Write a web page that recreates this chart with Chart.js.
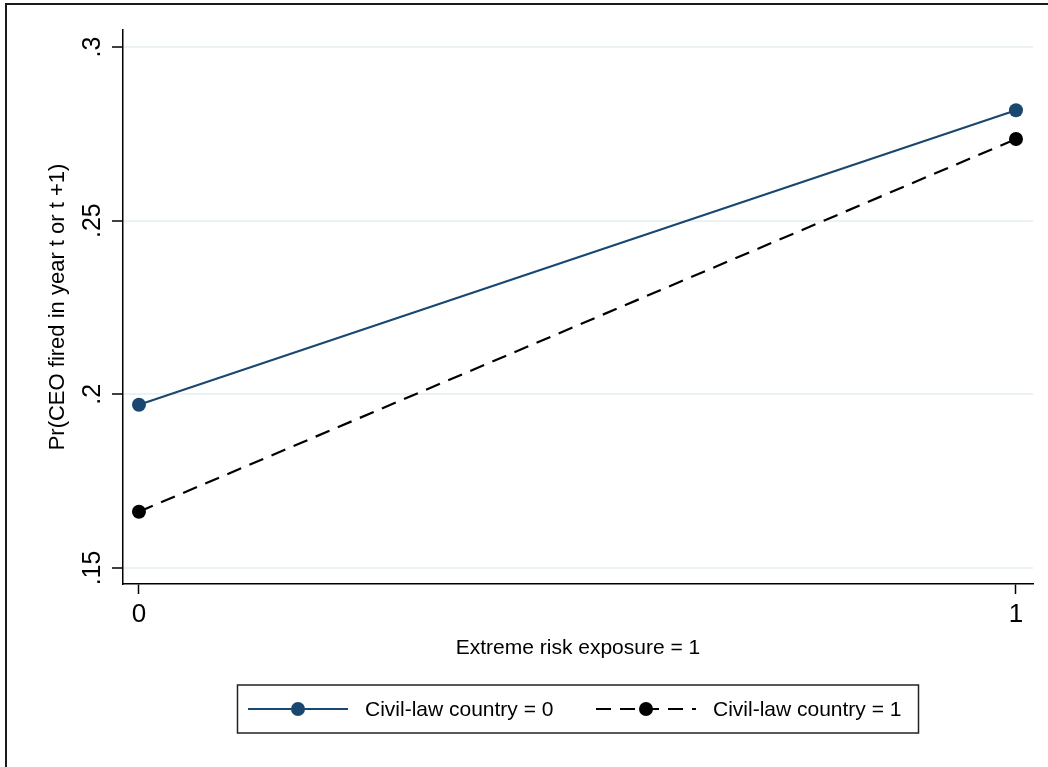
<!DOCTYPE html>
<html>
<head>
<meta charset="utf-8">
<script src="https://cdn.jsdelivr.net/npm/chart.js@4"></script>
<style>
  html, body { margin: 0; padding: 0; background: #fff; }
  #wrap { width: 1048px; height: 767px; position: relative; }
</style>
</head>
<body>
<div id="wrap"><canvas id="c" width="1048" height="767"></canvas></div>
<script>
// Predicted probabilities by risk exposure and legal origin
const xCategories = [0, 1];
const xTickLabels = ['0', '1'];
const yTickValues = [0.15, 0.2, 0.25, 0.3];
const yTickLabels = ['.15', '.2', '.25', '.3'];
const seriesNames = ['Civil-law country = 0', 'Civil-law country = 1'];
const civilLaw0 = [0.197, 0.2818];
const civilLaw1 = [0.1662, 0.2735];
const xAxisTitle = 'Extreme risk exposure = 1';
const yAxisTitle = 'Pr(CEO fired in year t or t +1)';

const FONT = 'Liberation Sans, Arial, Helvetica, sans-serif';
const NAVY = '#1a476f';

const toPoints = vals => xCategories.map((x, i) => ({ x: x, y: vals[i] }));

// White page with the outer graph frame
const framePlugin = {
  id: 'frame',
  beforeDraw(chart) {
    const ctx = chart.ctx;
    ctx.save();
    ctx.fillStyle = '#ffffff';
    ctx.fillRect(0, 0, chart.width, chart.height);
    ctx.strokeStyle = '#1a1a1a';
    ctx.lineWidth = 2;
    ctx.strokeRect(6, 4, 1200, 1000);
    ctx.restore();
  }
};

// Boxed legend with line-and-marker samples below the plot
const boxLegendPlugin = {
  id: 'boxLegend',
  afterDraw(chart) {
    const ctx = chart.ctx;
    const box = { x: 237.5, y: 685, w: 681, h: 48 };
    const cy = box.y + box.h / 2;
    ctx.save();
    ctx.strokeStyle = '#222';
    ctx.lineWidth = 1.5;
    ctx.strokeRect(box.x, box.y, box.w, box.h);

    const items = [
      { x0: 248, x1: 348, tx: 365 },
      { x0: 596, x1: 696, tx: 713 }
    ];
    chart.data.datasets.forEach((ds, i) => {
      const it = items[i];
      ctx.beginPath();
      ctx.setLineDash(ds.borderDash || []);
      ctx.strokeStyle = ds.borderColor;
      ctx.lineWidth = ds.borderWidth;
      ctx.moveTo(it.x0, cy);
      ctx.lineTo(it.x1, cy);
      ctx.stroke();
      ctx.setLineDash([]);
      ctx.beginPath();
      ctx.fillStyle = ds.pointBackgroundColor;
      ctx.arc((it.x0 + it.x1) / 2, cy, ds.pointRadius, 0, Math.PI * 2);
      ctx.fill();
      ctx.fillStyle = '#000';
      ctx.font = '21px ' + FONT;
      ctx.textBaseline = 'middle';
      ctx.textAlign = 'left';
      ctx.fillText(ds.label, it.tx, cy + 1);
    });
    ctx.restore();
  }
};

new Chart(document.getElementById('c'), {
  type: 'line',
  data: {
    datasets: [
      {
        label: seriesNames[0],
        data: toPoints(civilLaw0),
        borderColor: NAVY,
        borderWidth: 2.2,
        pointRadius: 7,
        pointBackgroundColor: NAVY,
        pointBorderWidth: 0,
        fill: false
      },
      {
        label: seriesNames[1],
        data: toPoints(civilLaw1),
        borderColor: '#000000',
        borderWidth: 2.2,
        borderDash: [15, 9],
        pointRadius: 7,
        pointBackgroundColor: '#000000',
        pointBorderWidth: 0,
        fill: false
      }
    ]
  },
  options: {
    responsive: false,
    animation: false,
    devicePixelRatio: 1,
    layout: { padding: { left: 0, top: 30, right: 15, bottom: 103 } },
    plugins: { legend: { display: false }, tooltip: { enabled: false } },
    scales: {
      x: {
        type: 'linear',
        min: -0.0182,
        max: 1.0194,
        afterBuildTicks: s => { s.ticks = xCategories.map(v => ({ value: v })); },
        afterFit: s => { s.height = 80; },
        ticks: {
          callback: v => xTickLabels[xCategories.indexOf(v)],
          color: '#000',
          font: { family: FONT, size: 26 },
          padding: 5,
          maxRotation: 0,
          autoSkip: false
        },
        grid: {
          drawOnChartArea: false,
          drawTicks: true,
          tickLength: 10,
          tickColor: '#000',
          tickWidth: 1.5
        },
        border: { display: true, color: '#000', width: 1.5 },
        title: {
          display: true,
          text: xAxisTitle,
          color: '#000',
          font: { family: FONT, size: 21 },
          padding: { top: 0, bottom: 3 }
        }
      },
      y: {
        type: 'linear',
        min: 0.14539,
        max: 0.3049,
        afterBuildTicks: s => { s.ticks = yTickValues.map(v => ({ value: v })); },
        afterFit: s => { s.width = 123; },
        ticks: {
          callback: v => yTickLabels[yTickValues.findIndex(t => Math.abs(t - v) < 1e-9)],
          color: '#000',
          font: { family: FONT, size: 25 },
          minRotation: 90,
          maxRotation: 90,
          crossAlign: 'center',
          padding: 2,
          autoSkip: false
        },
        grid: {
          color: '#eaf2f3',
          lineWidth: 2,
          drawTicks: true,
          tickLength: 11,
          tickColor: '#000',
          tickWidth: 1.5
        },
        border: { display: true, color: '#000', width: 1.5 },
        title: {
          display: true,
          text: yAxisTitle,
          color: '#000',
          font: { family: FONT, size: 22 },
          padding: { top: 45, bottom: 0 }
        }
      }
    }
  },
  plugins: [framePlugin, boxLegendPlugin]
});
</script>
</body>
</html>
